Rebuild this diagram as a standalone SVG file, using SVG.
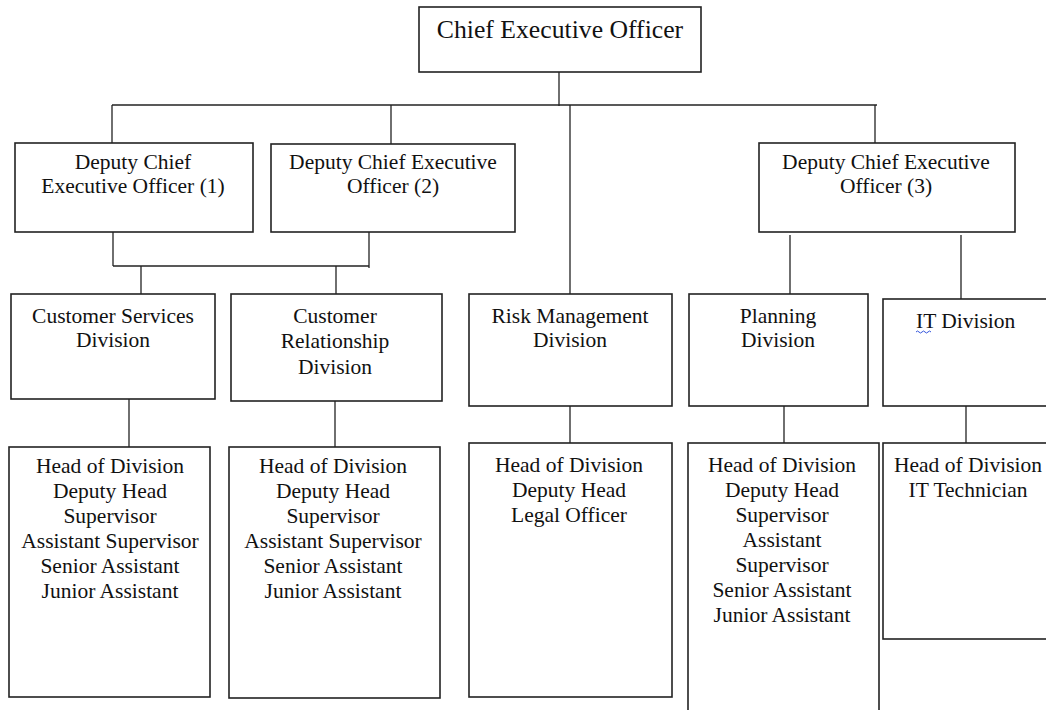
<svg xmlns="http://www.w3.org/2000/svg" width="1046" height="710" viewBox="0 0 1046 710">
<style>
.box{fill:#fff;stroke:#222;stroke-width:1.6}
.con{stroke:#222;stroke-width:1.3;fill:none}
text{font-family:"Liberation Serif","Times New Roman",serif;font-size:21.5px;fill:#111;text-anchor:middle}
.big{font-size:25.7px}
</style>
<rect width="1046" height="710" fill="#fff"/>
<g id="connectors">
<line class="con" x1="559" y1="72" x2="559" y2="106"/>
<line class="con" x1="112" y1="105" x2="877" y2="105"/>
<line class="con" x1="112" y1="105" x2="112" y2="143"/>
<line class="con" x1="391" y1="105" x2="391" y2="144"/>
<line class="con" x1="570" y1="105" x2="570" y2="294"/>
<line class="con" x1="875" y1="105" x2="875" y2="143"/>
<line class="con" x1="113" y1="232" x2="113" y2="266"/>
<line class="con" x1="113" y1="266" x2="369" y2="266"/>
<line class="con" x1="369" y1="232" x2="369" y2="268"/>
<line class="con" x1="141" y1="266" x2="141" y2="294"/>
<line class="con" x1="336" y1="266" x2="336" y2="294"/>
<line class="con" x1="790" y1="235" x2="790" y2="294"/>
<line class="con" x1="961" y1="235" x2="961" y2="299"/>
<line class="con" x1="129" y1="399" x2="129" y2="447"/>
<line class="con" x1="335" y1="401" x2="335" y2="447"/>
<line class="con" x1="570" y1="397" x2="570" y2="443"/>
<line class="con" x1="784" y1="406" x2="784" y2="443"/>
<line class="con" x1="966" y1="406" x2="966" y2="443"/>
</g>
<g id="ceo">
<rect class="box" x="419" y="7" width="282" height="65"/>
<text class="big" x="560" y="38">Chief Executive Officer</text>
</g>
<g id="dceo1">
<rect class="box" x="15" y="143" width="238" height="89"/>
<text x="133" y="169">Deputy Chief</text>
<text x="133" y="193">Executive Officer (1)</text>
</g>
<g id="dceo2">
<rect class="box" x="271" y="144" width="244" height="88"/>
<text x="393" y="169">Deputy Chief Executive</text>
<text x="393" y="193">Officer (2)</text>
</g>
<g id="dceo3">
<rect class="box" x="759" y="143" width="256" height="89"/>
<text x="886" y="169">Deputy Chief Executive</text>
<text x="886" y="193">Officer (3)</text>
</g>
<g id="customer-services">
<rect class="box" x="11" y="294" width="204" height="105"/>
<text x="113" y="323">Customer Services</text>
<text x="113" y="347">Division</text>
</g>
<g id="customer-relationship">
<rect class="box" x="231" y="294" width="211" height="107"/>
<text x="335" y="323">Customer</text>
<text x="335" y="348">Relationship</text>
<text x="335" y="374">Division</text>
</g>
<g id="risk-management">
<rect class="box" x="469" y="294" width="203" height="112"/>
<text x="570" y="323">Risk Management</text>
<text x="570" y="347">Division</text>
</g>
<g id="planning">
<rect class="box" x="689" y="294" width="179" height="112"/>
<text x="778" y="323">Planning</text>
<text x="778" y="347">Division</text>
</g>
<g id="it-division">
<rect class="box" x="883" y="299" width="170" height="107"/>
<text x="916" y="328" style="text-anchor:start">IT Division</text>
<path d="M916 332 q1.5 -2 3 0 t3 0 t3 0 t3 0 t3 0" fill="none" stroke="#3355dd" stroke-width="1"/>
</g>
<g id="cs-staff">
<rect class="box" x="9" y="447" width="201" height="250"/>
<text x="110" y="473">Head of Division</text>
<text x="110" y="498">Deputy Head</text>
<text x="110" y="523">Supervisor</text>
<text x="110" y="548">Assistant Supervisor</text>
<text x="110" y="573">Senior Assistant</text>
<text x="110" y="598">Junior Assistant</text>
</g>
<g id="cr-staff">
<rect class="box" x="229" y="447" width="211" height="251"/>
<text x="333" y="473">Head of Division</text>
<text x="333" y="498">Deputy Head</text>
<text x="333" y="523">Supervisor</text>
<text x="333" y="548">Assistant Supervisor</text>
<text x="333" y="573">Senior Assistant</text>
<text x="333" y="598">Junior Assistant</text>
</g>
<g id="risk-staff">
<rect class="box" x="469" y="443" width="203" height="254"/>
<text x="569" y="472">Head of Division</text>
<text x="569" y="497">Deputy Head</text>
<text x="569" y="522">Legal Officer</text>
</g>
<g id="planning-staff">
<rect class="box" x="688" y="443" width="191" height="280"/>
<text x="782" y="472">Head of Division</text>
<text x="782" y="497">Deputy Head</text>
<text x="782" y="522">Supervisor</text>
<text x="782" y="547">Assistant</text>
<text x="782" y="572">Supervisor</text>
<text x="782" y="597">Senior Assistant</text>
<text x="782" y="622">Junior Assistant</text>
</g>
<g id="it-staff">
<rect class="box" x="883" y="443" width="170" height="196"/>
<text x="968" y="472">Head of Division</text>
<text x="968" y="497">IT Technician</text>
</g>
</svg>
